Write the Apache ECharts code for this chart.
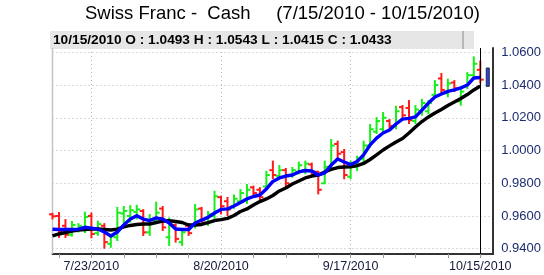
<!DOCTYPE html>
<html><head><meta charset="utf-8">
<script src="https://cdn.jsdelivr.net/npm/echarts@6.0.0/dist/echarts.min.js"></script>
<style>html,body{margin:0;padding:0;background:#fff}#c{width:544px;height:275px}</style>
</head><body><div id="c"></div>
<script>
const categories = ['7/15/2010','7/16/2010','7/19/2010','7/20/2010','7/21/2010','7/22/2010','7/23/2010',
'7/26/2010','7/27/2010','7/28/2010','7/29/2010','7/30/2010','8/2/2010','8/3/2010','8/4/2010','8/5/2010','8/6/2010',
'8/9/2010','8/10/2010','8/11/2010','8/12/2010','8/13/2010','8/16/2010','8/17/2010','8/18/2010','8/19/2010','8/20/2010',
'8/23/2010','8/24/2010','8/25/2010','8/26/2010','8/27/2010','8/30/2010','8/31/2010','9/1/2010','9/2/2010','9/3/2010',
'9/6/2010','9/7/2010','9/8/2010','9/9/2010','9/10/2010','9/13/2010','9/14/2010','9/15/2010','9/16/2010','9/17/2010',
'9/20/2010','9/21/2010','9/22/2010','9/23/2010','9/24/2010','9/27/2010','9/28/2010','9/29/2010','9/30/2010','10/1/2010',
'10/4/2010','10/5/2010','10/6/2010','10/7/2010','10/8/2010','10/11/2010','10/12/2010','10/13/2010','10/14/2010','10/15/2010'];
const blankSlots = ['', ''];
const xTickLabels = ['7/23/2010','8/20/2010','9/17/2010','10/15/2010'];
const yTickValues = [0.94,0.96,0.98,1.00,1.02,1.04,1.06];

const opens = [.9610,.9600,.9540,.9485,.9520,.9515,.9600,.9495,.9540,.9430,
.9470,.9615,.9600,.9625,.9630,.9500,.9575,.9645,.9470,.9545,
.9440,.9540,.9540,.9645,.9560,.9600,.9715,.9690,.9660,.9690,
.9700,.9775,.9760,.9780,.9880,.9845,.9880,.9845,.9870,.9880,
.9915,.9870,.9800,.9900,1.0040,.9990,.9840,.9900,.9950,1.0030,
1.0115,1.0130,1.0180,1.0150,1.0265,1.0260,1.0180,1.0240,1.0240,1.0340,
1.0440,1.0350,1.0415,1.0300,1.0390,1.0460,1.0493];
const highs = [.9613,.9618,.9575,.9563,.9550,.9620,.9615,.9565,.9550,.9484,
.9649,.9655,.9660,.9662,.9636,.9606,.9681,.9655,.9585,.9548,
.9514,.9548,.9667,.9649,.9624,.9748,.9718,.9710,.9725,.9758,
.9789,.9779,.9770,.9870,.9932,.9905,.9887,.9893,.9926,.9932,
.9920,.9870,.9932,1.0064,1.0054,1.0003,.9932,.9962,1.0054,1.0156,
1.0198,1.0229,1.0186,1.0267,1.0272,1.0302,1.0272,1.0310,1.0302,1.0424,
1.0468,1.0433,1.0424,1.0371,1.0473,1.0569,1.0543];
const lows = [.9585,.9472,.9472,.9480,.9505,.9502,.9470,.9485,.9406,.9412,
.9453,.9560,.9565,.9585,.9484,.9484,.9565,.9514,.9423,.9443,
.9423,.9484,.9530,.9545,.9545,.9590,.9616,.9606,.9650,.9679,
.9679,.9720,.9700,.9779,.9832,.9832,.9779,.9840,.9860,.9861,
.9850,.9738,.9800,.9891,.9952,.9830,.9830,.9881,.9932,1.0023,
1.0107,1.0115,1.0136,1.0136,1.0196,1.0168,1.0168,1.0219,1.0228,1.0333,
1.0351,1.0331,1.0363,1.0280,1.0382,1.0443,1.0415];
const closes = [.9598,.9505,.9485,.9545,.9540,.9594,.9490,.9550,.9440,.9475,
.9620,.9630,.9635,.9640,.9500,.9580,.9620,.9530,.9550,.9460,
.9500,.9495,.9640,.9560,.9610,.9720,.9660,.9640,.9705,.9740,
.9760,.9740,.9715,.9850,.9850,.9880,.9800,.9880,.9910,.9920,
.9870,.9760,.9900,1.0030,.9980,.9850,.9910,.9950,1.0030,1.0130,
1.0180,1.0200,1.0150,1.0240,1.0215,1.0185,1.0250,1.0290,1.0290,1.0400,
1.0370,1.0410,1.0380,1.0360,1.0460,1.0530,1.0433];
const blueAvg = [.9519,.9517,.9517,.9517,.9519,.9531,.9526,.9520,.9502,.9478,
.9502,.9545,.9581,.9602,.9581,.9572,.9588,.9581,.9557,.9520,
.9517,.9517,.9557,.9575,.9591,.9618,.9640,.9643,.9661,.9682,
.9704,.9719,.9728,.9765,.9811,.9832,.9844,.9850,.9869,.9878,
.9875,.9850,.9863,.9911,.9948,.9930,.9914,.9933,.9973,1.0034,
1.0076,1.0107,1.0125,1.0162,1.0192,1.0196,1.0205,1.0247,1.0290,1.0327,
1.0345,1.0361,1.0370,1.0382,1.0400,1.0443,1.0446];
const blackAvg = [.9478,.9490,.9499,.9508,.9514,.9517,.9520,.9520,.9517,.9514,
.9520,.9533,.9542,.9548,.9551,.9551,.9560,.9569,.9571,.9566,
.9560,.9545,.9545,.9548,.9560,.9572,.9578,.9585,.9603,.9627,
.9643,.9667,.9688,.9704,.9725,.9753,.9771,.9795,.9814,.9832,
.9844,.9850,.9869,.9884,.9896,.9899,.9901,.9908,.9921,.9945,
.9973,1.0003,1.0028,1.0052,1.0073,1.0107,1.0144,1.0177,1.0205,1.0229,
1.0251,1.0275,1.0296,1.0318,1.0342,1.0370,1.0394];
const rangeMarker = [1.0504, 1.0392];

const titleText = 'Swiss Franc -  Cash     (7/15/2010 - 10/15/2010)';
const headerText = '10/15/2010 O : 1.0493 H : 1.0543 L : 1.0415 C : 1.0433';

const axisCats = categories.concat(blankSlots);
const ohlcData = categories.map((d, i) => [i, opens[i], highs[i], lows[i], closes[i]]);
const UP = '#18ee18', DOWN = '#ff1a1a';

const chart = echarts.init(document.getElementById('c'), null, {renderer: 'canvas'});
const FONT = 'Liberation Sans, Arial, sans-serif';
chart.setOption({
  animation: false,
  backgroundColor: '#fff',
  grid: {left: 52.5, right: 50, top: 48, bottom: 21, containLabel: false},
  xAxis: {
    type: 'category', data: axisCats, boundaryGap: false,
    axisLine: {show: true, lineStyle: {color: '#333', width: 2}},
    axisTick: {show: true, length: 4, lineStyle: {color: '#999'},
      interval: (i) => i % 5 === 1 && i < categories.length},
    axisLabel: {color: '#141a3a', fontSize: 12.5, fontFamily: FONT, margin: 6,
      interval: (i, v) => xTickLabels.indexOf(v) >= 0},
    splitLine: {show: true, lineStyle: {color: '#b4b4b4', type: [1, 3], width: 1},
      interval: (i, v) => xTickLabels.indexOf(v) >= 0 && v !== '10/15/2010'}
  },
  yAxis: {
    type: 'value', position: 'right', min: 0.93676, max: 1.06263,
    axisLine: {show: true, lineStyle: {color: '#333', width: 2}},
    axisTick: {show: false, customValues: yTickValues},
    axisLabel: {customValues: yTickValues, color: '#1c2c70', fontSize: 13, fontFamily: FONT, margin: 8,
      formatter: (v) => v.toFixed(4)},
    splitLine: {show: true, lineStyle: {color: '#b4b4b4', type: [1, 3], width: 1}}
  },
  graphic: [
    {type: 'rect', shape: {x: 50, y: 31, width: 424, height: 18}, style: {fill: '#e6e6e6'}, z: 1},
    {type: 'line', shape: {x1: 463, y1: 31, x2: 463, y2: 49}, style: {stroke: '#888', lineWidth: 1}, z: 2},
    {type: 'line', shape: {x1: 52.5, y1: 48, x2: 52.5, y2: 254}, style: {stroke: '#c4c4c4', lineWidth: 1.5}, z: 2},
    {type: 'text', x: 85, y: 14, style: {text: titleText, font: '18.5px ' + FONT, fill: '#000',
      align: 'left', verticalAlign: 'middle'}, z: 3},
    {type: 'text', x: 53, y: 40.5, style: {text: headerText, font: 'bold 13.7px ' + FONT, fill: '#000',
      align: 'left', verticalAlign: 'middle'}, z: 3}
  ],
  series: [
    {
      type: 'custom', name: 'ohlc', data: ohlcData, z: 2,
      encode: {x: 0, y: [1, 2, 3, 4]},
      renderItem: (params, api) => {
        const i = api.value(0);
        const o = api.value(1), h = api.value(2), l = api.value(3), c = api.value(4);
        const pO = api.coord([i, o]), pH = api.coord([i, h]), pL = api.coord([i, l]), pC = api.coord([i, c]);
        const col = c >= o ? UP : DOWN;
        const st = {stroke: col, lineWidth: 2};
        return {type: 'group', children: [
          {type: 'line', shape: {x1: pH[0], y1: pH[1] - 1, x2: pL[0], y2: pL[1] + 1}, style: st},
          {type: 'line', shape: {x1: pO[0] - 3.5, y1: pO[1], x2: pO[0], y2: pO[1]}, style: st},
          {type: 'line', shape: {x1: pC[0], y1: pC[1], x2: pC[0] + 3.5, y2: pC[1]}, style: st}
        ]};
      },
      markLine: {
        silent: true, symbol: ['none', 'none'], label: {show: false},
        lineStyle: {color: '#000', width: 1, type: 'solid'},
        data: [{xAxis: categories[categories.length - 1]}]
      }
    },
    {type: 'line', name: 'black', data: blackAvg, symbol: 'none', z: 3,
      lineStyle: {color: '#000', width: 3.4, join: 'round'}},
    {type: 'line', name: 'blue', data: blueAvg, symbol: 'none', z: 4,
      lineStyle: {color: '#0000ff', width: 3.4, join: 'round'}},
    {
      type: 'custom', name: 'marker', data: [[categories.length, rangeMarker[0], rangeMarker[1]]], z: 5,
      encode: {x: 0, y: [1, 2]},
      renderItem: (params, api) => {
        const i = api.value(0);
        const pT = api.coord([i, api.value(1)]), pB = api.coord([i, api.value(2)]);
        return {type: 'rect', shape: {x: pT[0] - 0.5, y: pT[1], width: 3, height: pB[1] - pT[1]},
          style: {fill: '#2a3cff', stroke: '#203020', lineWidth: 1}};
      }
    }
  ]
});
</script></body></html>
